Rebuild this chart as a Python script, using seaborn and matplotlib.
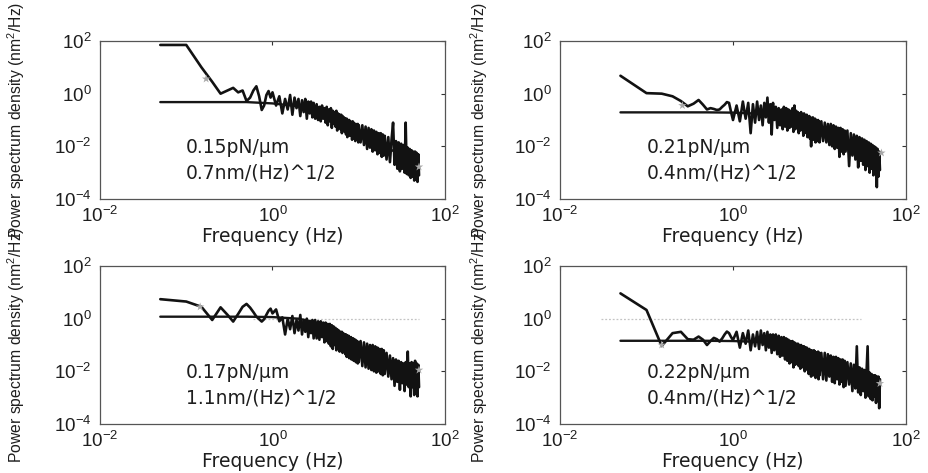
import numpy as np
import pandas as pd
import matplotlib
matplotlib.use("Agg")
import matplotlib.pyplot as plt
from matplotlib.ticker import NullLocator
import seaborn as sns

# Sampled frequencies (Hz), shared by the four spectra
FREQ_HZ = [
    0.05, 0.10, 0.15, 0.20, 0.25, 0.30, 0.35, 0.40, 0.45, 0.50,
    0.55, 0.60, 0.65, 0.70, 0.75, 0.80, 0.85, 0.90, 0.95, 1.00,
    1.1, 1.2, 1.3, 1.4, 1.5, 1.6, 1.7, 1.8, 1.9, 2.0,
    2.1, 2.2, 2.3, 2.4, 2.5, 2.6, 2.7, 2.8, 2.9, 3.0,
    3.125, 3.25, 3.375, 3.5, 3.625, 3.75, 3.875, 4.0,
    4.125, 4.25, 4.375, 4.5, 4.625, 4.75, 4.875, 5.0,
    5.125, 5.25, 5.375, 5.5, 5.625, 5.75, 5.875, 6.0,
    6.125, 6.25, 6.375, 6.5, 6.625, 6.75, 6.875, 7.0,
    7.125, 7.25, 7.375, 7.5, 7.625, 7.75, 7.875, 8.0,
    8.125, 8.25, 8.375, 8.5, 8.625, 8.75, 8.875, 9.0,
    9.125, 9.25, 9.375, 9.5, 9.625, 9.75, 9.875, 10.0,
    10.5, 11, 11.5, 12, 12.5, 13, 13.5, 14, 14.5, 15,
    15.5, 16, 16.5, 17, 17.5, 18, 18.5, 19, 19.5, 20,
    21, 22, 23, 24, 25, 26, 27, 28, 29, 30,
    31, 32, 33, 34, 35, 36, 37, 38, 39, 40,
    41, 42, 43, 44, 45, 46, 47, 48, 49, 50,
]

# Measured power spectra, log10(PSD / nm^2 Hz^-1)
PSD_A = [
    1.85, 1.85, 1.0, 0.45, 0.0, 0.12, 0.22, 0.05, 0.12, -0.28,
    -0.15, 0.12, 0.28, -0.1, -0.62, -0.45, -0.05, 0.1, -0.15, 0.05,
    -0.45, -0.1, -0.75, -0.2, -0.6, -0.05, -0.8, -0.15, -0.55, -0.2,
    -0.85, -0.25, -0.7, -0.2, -0.95, -0.3, -0.75, -0.3, -0.9, -0.35,
    -0.95, -0.4, -1.0, -0.5, -1.05, -0.45, -0.95, -0.55,
    -1.1, -0.5, -1.2, -0.6, -1.05, -0.55, -1.3, -0.65,
    -1.15, -0.7, -1.25, -0.65, -1.4, -0.75, -1.25, -0.8,
    -1.35, -0.8, -1.5, -0.85, -1.4, -0.9, -1.45, -0.95,
    -1.55, -0.95, -1.65, -1.0, -1.5, -1.0, -1.6, -1.05,
    -1.55, -1.1, -1.75, -1.05, -1.6, -1.1, -1.7, -1.15,
    -1.8, -1.15, -1.65, -1.2, -1.75, -1.15, -1.85, -1.2,
    -1.85, -1.2, -1.95, -1.25, -2.1, -1.3, -2.05, -1.35, -2.2, -1.4,
    -2.15, -1.45, -2.3, -1.5, -2.25, -1.5, -2.4, -1.55, -2.35, -1.6,
    -2.5, -1.65, -2.6, -1.75, -1.1, -2.7, -1.8, -2.85, -1.85, -2.95,
    -1.9, -2.85, -1.95, -3.0, -1.1, -3.05, -2.05, -3.1, -2.1, -3.2,
    -2.15, -3.15, -2.2, -3.3, -2.2, -3.25, -2.25, -3.35, -2.3, -3.1,
]
PSD_B = [
    0.68, 0.02, 0.0, -0.1, -0.28, -0.48, -0.38, -0.24, -0.42, -0.6,
    -0.55, -0.58, -0.62, -0.6, -0.5, -0.42, -0.32, -0.35, -0.7, -1.0,
    -0.45, -1.05, -0.3, -0.95, -0.35, -1.5, -0.4, -1.1, -0.3, -1.0,
    -0.45, -1.2, -0.35, -0.9, -0.15, -1.1, -0.4, -1.55, -0.35, -1.0,
    -0.5, -1.3, -0.55, -1.2, -0.6, -1.35, -0.5, -1.25,
    -0.55, -1.4, -0.6, -1.3, -0.65, -1.25, -0.55, -1.45,
    -0.45, -1.35, -0.65, -1.3, -0.7, -1.5, -0.75, -1.4,
    -0.7, -1.35, -0.8, -1.6, -0.75, -1.5, -0.85, -1.45,
    -0.8, -1.65, -0.9, -1.55, -0.85, -1.7, -0.9, -2.0,
    -0.95, -1.6, -0.9, -1.75, -1.0, -1.65, -0.95, -1.85,
    -1.0, -1.7, -1.05, -1.8, -1.0, -1.75, -1.05, -1.85,
    -1.05, -1.8, -1.1, -1.85, -1.15, -1.95, -1.15, -2.0, -1.2, -2.1,
    -1.25, -2.05, -1.3, -2.4, -1.3, -2.2, -1.35, -2.3, -1.4, -2.2,
    -1.4, -2.75, -1.5, -2.35, -1.55, -2.5, -1.6, -2.8, -1.65, -2.55,
    -1.7, -2.7, -1.75, -2.9, -1.8, -2.75, -1.85, -3.0, -1.9, -2.85,
    -1.95, -3.1, -2.0, -3.0, -2.05, -3.55, -2.1, -3.15, -2.2, -2.9,
]
PSD_C = [
    0.74, 0.65, 0.45, -0.05, 0.43, 0.15, -0.11, 0.18, 0.45, 0.56,
    0.42, 0.25, 0.08, -0.02, -0.11, -0.02, 0.15, 0.3, 0.38, 0.2,
    0.35, -0.1, 0.05, -0.6, 0.0, -0.4, 0.1, -0.55, -0.05, -0.45,
    0.14, -0.6, -0.05, -0.5, 0.0, -0.7, -0.1, -0.55, -0.05, -0.75,
    -0.05, -0.75, -0.1, -0.8, -0.1, -0.7, -0.15, -0.9,
    -0.15, -0.85, -0.2, -0.95, -0.2, -1.05, -0.25, -1.15,
    -0.3, -1.0, -0.35, -1.2, -0.4, -1.1, -0.45, -1.25,
    -0.5, -1.2, -0.5, -1.3, -0.55, -1.25, -0.6, -1.35,
    -0.6, -1.45, -0.65, -1.3, -0.65, -1.5, -0.7, -1.4,
    -0.7, -1.55, -0.75, -1.45, -0.75, -1.6, -0.8, -1.5,
    -0.8, -1.65, -0.85, -1.55, -0.85, -1.7, -0.9, -1.65,
    -0.85, -1.8, -0.9, -1.85, -0.95, -1.9, -1.0, -1.95, -1.0, -2.0,
    -1.05, -2.05, -1.1, -2.0, -1.15, -2.1, -1.15, -2.15, -1.2, -2.1,
    -1.3, -2.2, -1.4, -2.3, -1.5, -2.55, -1.55, -2.4, -1.6, -2.7,
    -1.65, -2.45, -1.7, -2.75, -1.65, -2.5, -1.25, -2.6, -1.7, -2.95,
    -1.65, -2.6, -1.7, -2.9, -1.6, -2.7, -1.7, -2.95, -1.75, -2.6,
]
PSD_D = [
    0.96, 0.33, -1.04, -0.55, -0.5, -0.78, -0.8, -0.68, -0.8, -1.0,
    -0.85, -0.73, -0.78, -0.87, -0.75, -0.6, -0.49, -0.55, -0.7, -0.81,
    -0.5, -1.1, -0.55, -0.95, -0.45, -1.2, -0.6, -1.05, -0.5, -1.15,
    -0.45, -1.0, -0.55, -1.2, -0.5, -1.1, -0.6, -1.3, -0.6, -1.2,
    -0.6, -1.35, -0.65, -1.45, -0.7, -1.4, -0.7, -1.55,
    -0.75, -1.6, -0.8, -1.7, -0.85, -1.65, -0.85, -1.85,
    -0.9, -1.75, -0.95, -1.6, -0.95, -1.8, -1.0, -1.9,
    -1.0, -1.85, -1.05, -1.75, -1.05, -2.0, -1.1, -1.85,
    -1.1, -1.95, -1.15, -2.1, -1.15, -1.95, -1.2, -2.2,
    -1.2, -2.05, -1.25, -2.15, -1.2, -2.0, -1.25, -2.25,
    -1.3, -2.1, -1.3, -2.2, -1.25, -2.3, -1.3, -2.15,
    -1.3, -2.3, -1.3, -2.35, -1.35, -2.2, -1.4, -2.4, -1.45, -2.45,
    -1.45, -2.3, -1.5, -2.5, -1.55, -2.4, -1.55, -2.6, -1.6, -2.55,
    -1.65, -2.5, -1.7, -2.75, -1.75, -2.65, -1.05, -2.8, -1.85, -2.9,
    -1.9, -2.75, -1.95, -3.0, -2.0, -1.05, -2.95, -2.05, -3.05, -2.1,
    -3.1, -2.15, -2.95, -2.15, -3.2, -2.2, -3.1, -2.2, -3.4, -2.3,
]

# Lorentzian fits, log10(PSD)
FIT_FREQ_HZ = [0.05, 0.5, 1, 2, 3, 5, 8, 12, 20, 30, 50]
FIT_A = [-0.32, -0.32, -0.37, -0.48, -0.62, -0.90, -1.21, -1.55, -1.99, -2.32, -2.78]
FIT_B = [-0.71, -0.71, -0.72, -0.76, -0.82, -0.97, -1.20, -1.45, -1.80, -2.05, -2.25]
FIT_C = [0.075, 0.075, 0.06, 0.0, -0.12, -0.45, -0.85, -1.20, -1.60, -1.85, -1.95]
FIT_D = [-0.84, -0.84, -0.85, -0.88, -0.95, -1.10, -1.35, -1.60, -1.95, -2.20, -2.46]

# Ends of the fitted range (star markers), frequency and log10(PSD)
STAR_FREQ = [[0.17, 50], [0.26, 52], [0.145, 50], [0.15, 50]]
STAR_LOGP = [[0.56, -2.78], [-0.45, -2.25], [0.45, -1.95], [-1.0, -2.46]]

# Faint dotted reference at 1 nm^2/Hz (start, end in Hz); None where absent
GUIDE_SPAN = [None, None, (0.6, 50), (0.03, 30)]

STIFFNESS = ["0.15pN/\u03bcm", "0.21pN/\u03bcm", "0.17pN/\u03bcm", "0.22pN/\u03bcm"]
NOISE = ["0.7nm/(Hz)^1/2", "0.4nm/(Hz)^1/2", "1.1nm/(Hz)^1/2", "0.4nm/(Hz)^1/2"]

X_TICKS = [1e-2, 1e0, 1e2]
Y_TICKS = [1e-4, 1e-2, 1e0, 1e2]

sns.set_theme(style="white")
plt.rcParams["font.family"] = ["Liberation Sans", "DejaVu Sans"]
plt.rcParams["mathtext.default"] = "regular"

W, H = 929, 473
fig = plt.figure(figsize=(W / 100, H / 100), dpi=100)
fig.patch.set_facecolor("white")

# axes boxes in pixels: left, top, width, height
boxes = [(100, 41, 345, 158), (560, 41, 346, 158),
         (100, 266, 345, 158), (560, 266, 346, 158)]
spectra = [PSD_A, PSD_B, PSD_C, PSD_D]
fits = [FIT_A, FIT_B, FIT_C, FIT_D]

for i, (l, t, w, h) in enumerate(boxes):
    ax = fig.add_axes([l / W, 1 - (t + h) / H, w / W, h / H])
    ax.set_xscale("log")
    ax.set_yscale("log")

    if GUIDE_SPAN[i] is not None:
        g0, g1 = GUIDE_SPAN[i]
        ax.plot([g0, g1], [1.0, 1.0], color="#c4c4c4", lw=0.9,
                ls=(0, (1.5, 1.5)), zorder=1)

    spec = pd.DataFrame({"f": FREQ_HZ, "p": np.power(10.0, spectra[i])})
    fit = pd.DataFrame({"f": FIT_FREQ_HZ, "p": np.power(10.0, fits[i])})
    sns.lineplot(data=fit, x="f", y="p", ax=ax, color="#161616",
                 lw=1.7, sort=False, estimator=None, zorder=3)
    sns.lineplot(data=spec, x="f", y="p", ax=ax, color="#121212",
                 lw=1.9, sort=False, estimator=None, zorder=4)
    stars = pd.DataFrame({"f": STAR_FREQ[i], "p": np.power(10.0, STAR_LOGP[i])})
    sns.scatterplot(data=stars, x="f", y="p", ax=ax, marker="*", s=40,
                    color="#a8a8a8", edgecolor="none", zorder=5)

    ax.set_xlim(1e-2, 1e2)
    ax.set_ylim(1e-4, 1e2)
    ax.set_xticks(X_TICKS)
    ax.set_yticks(Y_TICKS)
    ax.xaxis.set_minor_locator(NullLocator())
    ax.yaxis.set_minor_locator(NullLocator())
    ax.tick_params(axis="both", which="major", direction="in", length=3,
                   width=0.8, top=True, right=True, colors="#333333",
                   labelcolor="#1e1e1e", labelsize=13.5)
    ax.tick_params(axis="x", pad=5)
    ax.tick_params(axis="y", pad=6)
    for sp in ax.spines.values():
        sp.set_color("#555555")
        sp.set_linewidth(0.9)

    ax.text(0.1, 10 ** -2.05, STIFFNESS[i], ha="left", va="center",
            fontsize=13.5, color="#1e1e1e", family=["DejaVu Sans"])
    ax.text(0.1, 10 ** -3.0, NOISE[i], ha="left", va="center",
            fontsize=13.5, color="#1e1e1e", family=["DejaVu Sans"])

    ax.set_xlabel("Frequency (Hz)", fontsize=13.5, color="#1e1e1e",
                  family=["DejaVu Sans"], labelpad=0.5)
    ax.set_ylabel("Power spectrum density (nm$^2$/Hz)", fontsize=11.3,
                  color="#1e1e1e")
    ax.yaxis.set_label_coords((27 - 100) / 345 if l < 300 else (490 - 560) / 346, 0.5)

fig.savefig("out.png", dpi=100, facecolor="white")
